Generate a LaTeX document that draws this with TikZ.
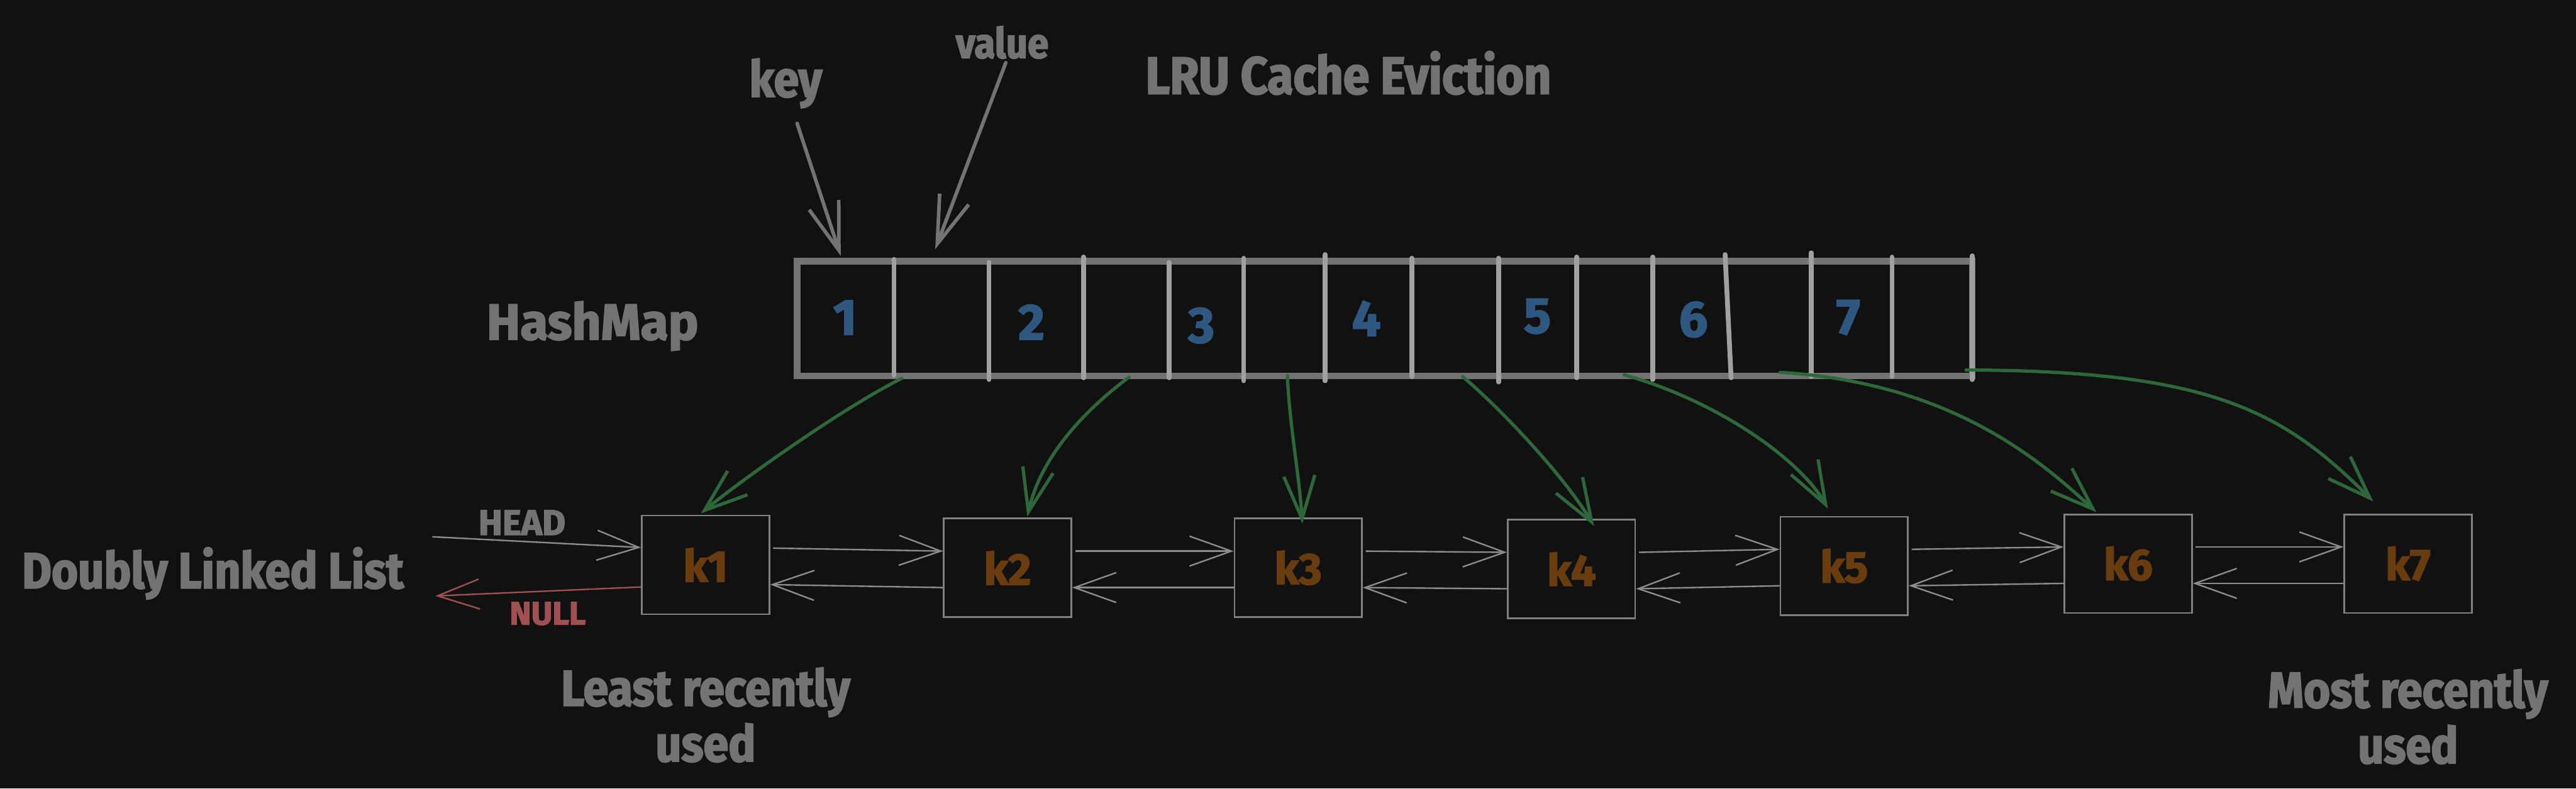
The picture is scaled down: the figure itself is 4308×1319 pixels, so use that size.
\documentclass[tikz,border=0pt]{standalone}
\usepackage{fontspec}
\setmainfont{Fira Sans}[FakeBold=2.5]
\newfontfamily\lruhand{Fira Sans}[FakeStretch=0.9, FakeBold=2.5]
\usepackage{tikz}
\usetikzlibrary{arrows.meta,positioning,calc}
\definecolor{lrubg}{RGB}{17,17,17}
\definecolor{lrugray}{RGB}{115,115,115}
\definecolor{lrulight}{RGB}{140,140,140}
\definecolor{lrudiv}{RGB}{160,160,160}
\definecolor{lruline}{RGB}{128,128,128}
\definecolor{lrublue}{RGB}{46,88,128}
\definecolor{lrubrown}{RGB}{104,60,14}
\definecolor{lrugreen}{RGB}{46,104,58}
\definecolor{lrured}{RGB}{160,80,80}
\newcommand{\lrusize}[2]{\fontsize{#1}{#2}\selectfont\bfseries}
\tikzset{
  lrulabel/.style={text=lrugray, font=\lruhand\lrusize{24pt}{26.5pt}, inner sep=0pt, anchor=base},
  lrudigit/.style={text=lrublue, font=\lrusize{24pt}{26pt}, inner sep=0pt, anchor=base},
  lrubox/.style={draw=lruline, line width=0.3mm, minimum width=21.3mm, minimum height=16.5mm, inner sep=0pt, text=lrubrown, font=\lrusize{21pt}{24pt}},
  lrucell/.style={draw=lrudiv, line width=0.8mm, line cap=round},
  lrulink/.style={-{Straight Barb[length=7mm, width=5mm]}, line width=0.25mm, draw=lrulight},
  lrumap/.style={-{Straight Barb[length=7.2mm, width=5.2mm]}, line width=0.55mm, draw=lrugreen, line cap=round},
  lrupoint/.style={-{Straight Barb[length=8mm, width=5.2mm]}, line width=0.6mm, draw=lrugray, line cap=round}
}

\begin{document}
\begin{tikzpicture}[x=0.1mm, y=-0.1mm]
  \fill[lrubg] (0,0) rectangle (4308,1319);
  \useasboundingbox (0,0) rectangle (4308,1319);
  \node[lrulabel, font=\lruhand\lrusize{25pt}{28pt}] (title) at (2255,157) {LRU Cache Eviction};
  \node[lrulabel, font=\lrusize{24pt}{26.5pt}] (hashlbl) at (991,568) {HashMap};
  \node[lrulabel] (listlbl) at (356,984) {Doubly Linked List};
  \node[lrulabel] (keylbl) at (1314,162) {key};
  \node[lrulabel, font=\lruhand\lrusize{20pt}{22pt}] (vallbl) at (1676,97) {value};

  \draw[lrugray, line width=1.1mm] (1333,437) rectangle (3298,629);
  \foreach \xa/\ya/\xb/\yb in {1495/434/1495/628, 1654/439/1654/635, 1812/430/1812/632,
      1955/439/1955/632, 2080/432/2080/637, 2216/426/2216/637, 2361/432/2361/630,
      2506/432/2506/639, 2637/430/2637/632, 2764/430/2764/635, 2885/426/2895/632,
      3029/423/3029/630, 3164/430/3164/630, 3298/428/3298/635}
    \draw[lrucell] (\xa,\ya) -- (\xb,\yb);
  \foreach \n/\x/\y in {1/1413/560, 2/1725/568, 3/2009/573, 4/2285/562, 5/2571/557, 6/2832/563, 7/3091/559}
    \node[lrudigit] (d\n) at (\x,\y) {\n};

  \coordinate (hkey) at (1406,428);
  \coordinate (hval) at (1564,417);
  \draw[lrupoint] ($(keylbl.south)+(19,25)$) -- (hkey);
  \draw[lrupoint] ($(vallbl.south)+(6,6)$) -- (hval);

  \foreach \n/\x/\y in {1/1180/945, 2/1685/950, 3/2171/950, 4/2628/952, 5/3084/947, 6/3559/943, 7/4027/943}
    \node[lrubox] (k\n) at (\x,\y) {k\n};
  \foreach \a/\b in {1/2, 2/3, 3/4, 4/5, 5/6, 6/7} {
    \draw[lrulink] ([xshift=0.5mm, yshift=2.8mm]k\a.east) -- ([yshift=2.8mm]k\b.west);
    \draw[lrulink] ([yshift=-3.3mm]k\b.west) -- ([yshift=-3.3mm]k\a.east);
  }

  \coordinate (headstart) at (723,898);
  \coordinate (nullend) at (728,997);
  \draw[lrulink] (headstart) -- ([yshift=2.9mm]k1.west);
  \draw[lrulink, draw=lrured] ([yshift=-3.7mm]k1.west) -- (nullend);
  \node[lrulabel, font=\lrusize{17pt}{19pt}] (headlbl) at (873,895) {HEAD};
  \node[lrulabel, font=\lrusize{15.5pt}{18pt}, text=lrured] (nulllbl) at (916,1045) {NULL};

  \node[lrulabel, anchor=north, align=center, below=8.7mm of k1] (lrulbl) {Least recently\\used};
  \node[lrulabel, anchor=north, align=center, below=9.2mm of k7] (mrulbl) {Most recently\\used};

  \coordinate (h1) at (1508,633);
  \coordinate (h2) at (1888,631);
  \coordinate (h3) at (2153,628);
  \coordinate (h4) at (2446,630);
  \coordinate (h5) at (2716,627);
  \coordinate (h6) at (2977,623);
  \coordinate (h7) at (3288,619);
  \draw[lrumap] (h1) .. controls +(-100,50) and +(60,-50) .. ($(k1.north)+(-8,-2)$);
  \draw[lrumap] (h2) .. controls +(-60,45) and +(25,-110) .. ($(k2.north)+(33,-2)$);
  \draw[lrumap] (h3) .. controls +(3,80) and +(-5,-80) .. ($(k3.north)+(7,10)$);
  \draw[lrumap] (h4) .. controls +(54,45) and +(-56,-92) .. ($(k4.north)+(38,12)$);
  \draw[lrumap] (h5) .. controls +(160,45) and +(-45,-80) .. ($(k5.north)+(-27,-12)$);
  \draw[lrumap] (h6) .. controls +(283,17) and +(-96,-89) .. ($(k6.north)+(-53,-2)$);
  \draw[lrumap] (h7) .. controls +(412,1) and +(-150,-150) .. ($(k7.north)+(-58,-20)$);
\end{tikzpicture}
\end{document}
